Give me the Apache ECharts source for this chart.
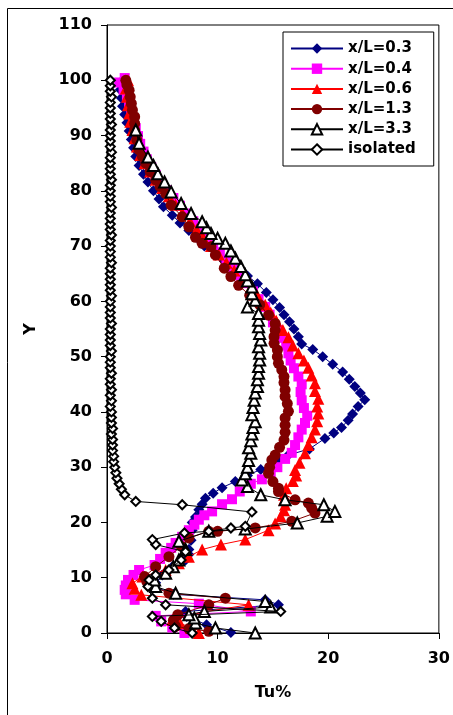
<!DOCTYPE html>
<html><head><meta charset="utf-8">
<script src="https://cdn.jsdelivr.net/npm/echarts@6/dist/echarts.min.js"></script>
<style>html,body{margin:0;padding:0;background:#fff;} #c{width:453px;height:715px;}</style>
</head><body><div id="c"></div>
<script>
// ---- data (Tu%, Y) ----
const seriesNames = ['x/L=0.3', 'x/L=0.4', 'x/L=0.6', 'x/L=1.3', 'x/L=3.3', 'isolated'];
const xTickInterval = 10;   // ticks 0,10,20,30
const yTickInterval = 10;   // ticks 0..110

const s03 = [[11.2,0.1],[9.0,1.5],[7.2,3.0],[7.1,3.9],[15.5,5.1],[14.3,6.0],[6.0,7.0],[4.3,8.4],[4.4,9.1],[5.0,10.5],[5.9,12],[7.1,13.2],[7.4,14.2],[7.4,15.1],[7.6,16.8],[7.7,18.6],[7.7,20.0],[8.0,21.0],[8.3,22.3],[8.6,23.3],[8.9,24.4],[9.6,25.3],[10.4,26.3],[11.6,27.4],[12.7,28.5],[13.9,29.6],[15.5,31.2],[16.4,32.2],[18.3,33.3],[19.7,35.2],[20.5,36.2],[21.2,37.2],[21.8,38.5],[22.2,39.6],[22.7,41.0],[23.3,42.2],[22.9,43.4],[22.4,44.6],[21.9,45.9],[21.3,47.2],[20.4,48.6],[19.5,50.0],[18.6,51.3],[17.6,52.3],[17.3,53.6],[16.9,55.0],[16.5,56.3],[16.0,57.6],[15.6,58.9],[15.0,60.3],[14.4,61.6],[13.6,63.2],[12.7,64.6],[11.8,66.0],[10.6,67.3],[9.8,68.5],[8.8,70.0],[8.2,71.4],[7.4,72.8],[6.6,74.2],[5.9,75.6],[5.1,77.1],[4.7,78.5],[4.2,80.0],[3.7,81.6],[3.3,83.0],[2.9,84.6],[2.6,86.2],[2.4,87.8],[2.2,89.3],[2.0,90.8],[1.8,92.3],[1.6,93.8],[1.4,95.3],[1.3,96.8],[1.2,98.3],[1.3,99.8]];

const s04 = [[7.0,0.0],[5.9,1.0],[4.9,2.1],[4.4,3.1],[13.0,3.9],[8.3,5.3],[2.5,6.0],[1.7,7.0],[1.6,7.8],[1.7,8.6],[1.9,9.6],[2.4,10.5],[2.9,11.4],[4.3,12.3],[4.8,13.4],[5.3,14.5],[5.8,15.4],[6.2,16.3],[6.8,17.4],[7.4,18.6],[7.9,19.6],[8.3,20.5],[8.8,21.3],[9.5,22.0],[10.4,23.3],[11.3,24.2],[12.0,25.6],[13.0,27.0],[14.0,27.8],[14.8,28.9],[15.4,30.0],[16.1,31.5],[16.7,32.6],[17.0,34.0],[17.3,35.4],[17.6,36.8],[17.9,38.0],[18.1,39.3],[17.8,40.7],[17.6,42.1],[17.5,43.6],[17.6,45.0],[17.3,46.4],[16.9,47.9],[16.6,49.3],[16.4,50.6],[16.2,52.0],[15.8,53.4],[15.4,54.8],[15.0,56.2],[14.7,57.6],[14.3,59.0],[13.7,60.4],[13.2,61.8],[12.6,63.3],[12.0,64.7],[11.4,66.1],[10.8,67.5],[10.2,68.9],[9.6,70.3],[9.0,71.7],[8.4,73.1],[7.8,74.5],[7.2,75.9],[6.6,77.3],[6.0,78.7],[5.4,80.1],[4.9,81.5],[4.4,82.9],[4.0,84.3],[3.6,85.7],[3.3,87.1],[3.0,88.5],[2.8,89.9],[2.6,91.3],[2.4,92.7],[2.2,94.1],[2.0,95.5],[1.8,96.9],[1.5,98.3],[1.1,99.6],[1.6,100.4]];

const s06 = [[8.3,0.0],[7.6,0.9],[6.6,1.8],[5.9,2.4],[8.7,3.8],[12.8,5.1],[3.1,6.9],[2.5,8.0],[2.3,9.0],[3.2,10.2],[5.3,11.4],[6.5,12.6],[7.4,13.8],[8.6,15.1],[10.3,16.0],[12.5,16.9],[14.6,18.6],[15.2,19.8],[15.7,21.1],[16.0,22.2],[16.1,23.2],[16.0,24.1],[16.0,25.0],[16.2,26.2],[16.8,27.5],[17.1,28.5],[17.0,29.5],[17.4,30.8],[17.9,32.5],[18.2,34.0],[18.5,35.4],[18.8,36.8],[19.0,38.3],[19.1,39.7],[19.0,41.0],[19.1,42.4],[18.8,43.8],[18.8,45.2],[18.5,46.6],[18.2,48.0],[17.8,49.3],[17.3,50.6],[16.8,52.0],[16.4,53.5],[15.9,54.8],[15.3,56.5],[14.8,58.0],[14.3,59.4],[13.6,61.0],[13.0,62.5],[12.3,64.0],[11.5,65.6],[10.8,67.0],[10.1,68.5],[9.4,70.0],[8.7,71.5],[8.1,73.0],[7.5,74.5],[6.8,76.0],[6.2,77.5],[5.6,79.0],[5.0,80.5],[4.4,82.0],[3.9,83.5],[3.4,85.0],[3.0,86.5],[2.7,88.0],[2.5,89.5],[2.3,91.0],[2.1,92.5],[2.0,94.0],[1.9,95.5],[1.8,97.0],[1.7,98.5],[1.9,100.0]];

const s13 = [[9.2,0.3],[7.4,0.8],[6.2,1.2],[6.0,2.3],[6.4,3.3],[9.2,5.1],[10.7,6.3],[5.6,7.2],[4.2,8.4],[3.6,9.3],[3.4,10.2],[4.4,12.0],[5.6,13.8],[6.7,15.7],[7.4,17.2],[9.2,18.4],[10.0,18.4],[13.4,19.0],[16.7,20.2],[18.8,21.7],[18.5,22.6],[18.2,23.5],[17.0,24.1],[15.5,25.6],[15.5,26.2],[15.0,27.4],[14.6,28.9],[14.7,30.0],[14.9,31.3],[15.2,32.2],[15.6,33.6],[16.0,34.9],[16.1,36.3],[16.1,37.6],[16.1,38.9],[16.4,40.1],[16.3,41.5],[16.1,42.8],[16.1,44.0],[16.0,45.3],[16.0,46.4],[15.8,47.6],[15.5,48.8],[15.4,50.0],[15.4,51.2],[15.1,52.4],[15.1,53.6],[15.2,54.8],[15.2,56.0],[14.6,57.5],[13.8,59.4],[12.9,61.1],[11.9,62.9],[11.2,64.5],[10.6,66.0],[9.8,68.4],[9.4,69.9],[8.6,70.5],[8.0,71.6],[7.4,73.5],[6.8,75.3],[5.8,77.4],[5.3,79.5],[4.8,80.8],[4.4,82.0],[3.9,83.5],[3.5,85.0],[3.2,86.2],[2.9,87.4],[2.7,89.2],[2.5,91.0],[2.5,92.2],[2.5,93.4],[2.3,94.6],[2.2,95.8],[2.1,97.0],[2.0,98.2],[1.8,99.2],[1.7,100.0]];

const s33 = [[13.4,0.0],[9.8,0.9],[8.0,1.8],[7.9,2.7],[7.4,3.3],[8.8,3.9],[14.8,4.7],[14.3,5.7],[6.2,7.2],[4.4,8.4],[4.3,9.6],[5.3,10.8],[6.0,12.0],[6.5,13.2],[7.1,15.1],[6.5,16.6],[9.2,18.4],[12.5,18.8],[17.2,19.9],[19.9,21.1],[20.6,22.0],[19.6,23.2],[16.1,24.1],[13.9,25.0],[12.7,26.5],[12.2,27.7],[12.5,28.8],[12.7,30.0],[12.8,31.2],[13.0,32.5],[12.8,33.5],[13.0,34.8],[13.1,36.0],[13.2,37.2],[13.4,38.2],[13.1,39.5],[13.2,40.8],[13.3,42.1],[13.4,43.4],[13.6,44.6],[13.6,45.8],[13.7,47.0],[13.7,48.2],[13.8,49.4],[13.8,50.6],[13.7,51.8],[13.9,53.0],[13.8,54.2],[13.7,55.4],[13.7,56.6],[13.7,57.8],[12.7,59.0],[13.4,60.2],[13.1,61.4],[13.1,62.6],[12.7,63.7],[12.5,64.8],[12.1,66.3],[11.6,67.8],[11.2,69.1],[10.7,70.5],[10.0,71.4],[9.4,72.3],[9.0,73.3],[8.6,74.4],[7.6,75.9],[6.7,77.7],[5.8,79.8],[5.2,81.6],[4.6,83.1],[4.2,84.6],[3.7,86.1],[2.9,88.6],[2.6,91.0]];

const sIso = [[7.7,0.0],[6.1,0.9],[4.9,2.1],[4.1,3.0],[15.7,3.9],[5.3,5.1],[4.1,6.3],[3.7,8.4],[3.8,9.6],[4.4,10.5],[5.6,11.4],[6.7,13.2],[7.1,14.7],[4.4,16.0],[4.1,16.9],[7.0,18.1],[9.2,18.4],[11.2,19.0],[12.5,19.3],[13.1,21.9],[6.8,23.2],[2.6,23.8],[1.6,25.0],[1.3,26.0],[1.1,27.0],[0.9,28.0],[0.8,29.0],[0.7,30.0],[0.6,31.0],[0.6,32.0],[0.5,33.0],[0.5,34.0],[0.5,35.0],[0.4,36.0],[0.5,37.0],[0.4,38.0],[0.4,39.0],[0.4,40.0],[0.3,41.0],[0.4,42.0],[0.3,43.0],[0.4,44.0],[0.3,45.0],[0.3,46.0],[0.4,47.0],[0.3,48.0],[0.3,49.0],[0.3,50.0],[0.4,51.0],[0.3,52.0],[0.3,53.0],[0.3,54.0],[0.3,55.0],[0.4,56.0],[0.3,57.0],[0.3,58.0],[0.3,59.0],[0.3,60.0],[0.4,61.0],[0.3,62.0],[0.3,63.0],[0.3,64.0],[0.3,65.0],[0.3,66.0],[0.4,67.0],[0.3,68.0],[0.3,69.0],[0.3,70.0],[0.3,71.0],[0.4,72.0],[0.3,73.0],[0.3,74.0],[0.3,75.0],[0.3,76.0],[0.4,77.0],[0.3,78.0],[0.3,79.0],[0.3,80.0],[0.3,81.0],[0.4,82.0],[0.3,83.0],[0.3,84.0],[0.3,85.0],[0.3,86.0],[0.4,87.0],[0.3,88.0],[0.3,89.0],[0.3,90.0],[0.3,91.0],[0.4,92.0],[0.3,93.0],[0.3,94.0],[0.3,95.0],[0.3,96.0],[0.4,97.0],[0.3,98.0],[0.3,99.0],[0.3,100.0]];

// ---- styles ----
const FONT = 'DejaVu Sans';
const styles = [
  {data: s03, color: '#000080', symbol: 'diamond', size: 11},
  {data: s04, color: '#FF00FF', symbol: 'rect', size: 10},
  {data: s06, color: '#FF0000', symbol: 'triangle', size: 12},
  {data: s13, color: '#800000', symbol: 'circle', size: 11},
  {data: s33, color: '#000000', symbol: 'emptyTriangle', size: 11},
  {data: sIso, color: '#000000', symbol: 'emptyDiamond', size: 9}
];

const chart = echarts.init(document.getElementById('c'), null, {renderer: 'canvas'});
chart.setOption({
  backgroundColor: '#fff',
  animation: false,
  grid: {left: 107, right: 12, top: 25, bottom: 82, show: true, borderColor: '#000', borderWidth: 1, backgroundColor: 'transparent'},
  graphic: [{type: 'rect', shape: {x: 7.5, y: 8.5, width: 600, height: 900}, style: {fill: 'none', stroke: '#000', lineWidth: 1}, z: 0}],
  legend: {
    orient: 'vertical', left: 283, top: 32,
    backgroundColor: '#fff', borderColor: '#000', borderWidth: 1,
    padding: [9, 18, 9, 7],
    itemWidth: 52, itemHeight: 13, itemGap: 5.2,
    textStyle: {fontFamily: FONT, fontWeight: 'bold', fontSize: 15, color: '#000'},
    data: seriesNames
  },
  xAxis: {
    type: 'value', min: 0, max: 30, interval: xTickInterval,
    name: 'Tu%', nameLocation: 'middle', nameGap: 52,
    nameTextStyle: {fontFamily: FONT, fontWeight: 'bold', fontSize: 16, color: '#000'},
    axisLine: {show: true, lineStyle: {color: '#000', width: 1}},
    axisTick: {show: true, inside: false, length: 6, lineStyle: {color: '#000'}},
    axisLabel: {fontFamily: FONT, fontWeight: 'bold', fontSize: 16, color: '#000', margin: 18},
    splitLine: {show: false}
  },
  yAxis: {
    type: 'value', min: 0, max: 110, interval: yTickInterval,
    name: 'Y', nameLocation: 'middle', nameGap: 68, nameRotate: 90,
    nameTextStyle: {fontFamily: FONT, fontWeight: 'bold', fontSize: 16, color: '#000'},
    axisLine: {show: true, lineStyle: {color: '#000', width: 1}},
    axisTick: {show: true, inside: false, length: 6, lineStyle: {color: '#000'}},
    axisLabel: {fontFamily: FONT, fontWeight: 'bold', fontSize: 16, color: '#000', margin: 15},
    splitLine: {show: false}
  },
  series: styles.map((s, i) => ({
    name: seriesNames[i], type: 'line', data: s.data,
    symbol: s.symbol, symbolSize: s.size, showAllSymbol: true,
    lineStyle: {color: s.color, width: 1},
    itemStyle: {color: s.color, borderColor: s.color, borderWidth: s.symbol.startsWith('empty') ? 1.5 : 0},
    z: 2 + i
  }))
});
</script>
</body></html>
